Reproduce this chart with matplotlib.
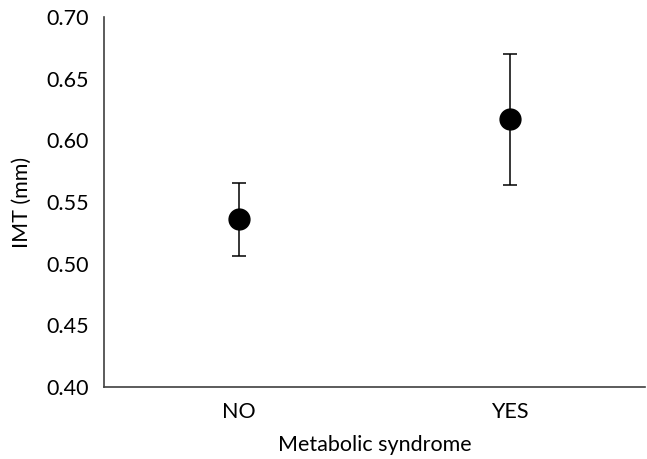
import matplotlib
matplotlib.use('Agg')
import matplotlib.pyplot as plt

plt.rcParams['font.family'] = ['Lato', 'DejaVu Sans']

groups = ['NO', 'YES']
imt_mean = [0.536, 0.617]
imt_low = [0.506, 0.564]
imt_high = [0.565, 0.670]

err_lo = [m - l for m, l in zip(imt_mean, imt_low)]
err_hi = [h - m for m, h in zip(imt_mean, imt_high)]

fig = plt.figure(figsize=(6.47, 4.59), dpi=100)
ax = fig.add_axes([0.1607, 0.157, 0.836, 0.806])

x = list(range(len(groups)))
ax.errorbar(x, imt_mean, yerr=[err_lo, err_hi], fmt='o', color='black',
            ecolor='black', elinewidth=1.1, capsize=5, capthick=1.1,
            markersize=15)

ax.set_xlim(-0.5, 1.5)
ax.set_ylim(0.40, 0.70)
ax.set_yticks([0.40, 0.45, 0.50, 0.55, 0.60, 0.65, 0.70])
ax.set_yticklabels(['{:.2f}'.format(v) for v in ax.get_yticks()])
ax.set_xticks(x)
ax.set_xticklabels(groups)
ax.tick_params(axis='both', length=0, labelsize=15.5)
ax.tick_params(axis='y', pad=11)
ax.tick_params(axis='x', pad=11)

for s in ['top', 'right']:
    ax.spines[s].set_visible(False)
for s in ['left', 'bottom']:
    ax.spines[s].set_color('#404040')
    ax.spines[s].set_linewidth(1.2)

ax.set_xlabel('Metabolic syndrome', fontsize=15.5, labelpad=9)
ax.set_ylabel('IMT (mm)', fontsize=15.5, labelpad=10)

fig.savefig('out.png', dpi=100)
